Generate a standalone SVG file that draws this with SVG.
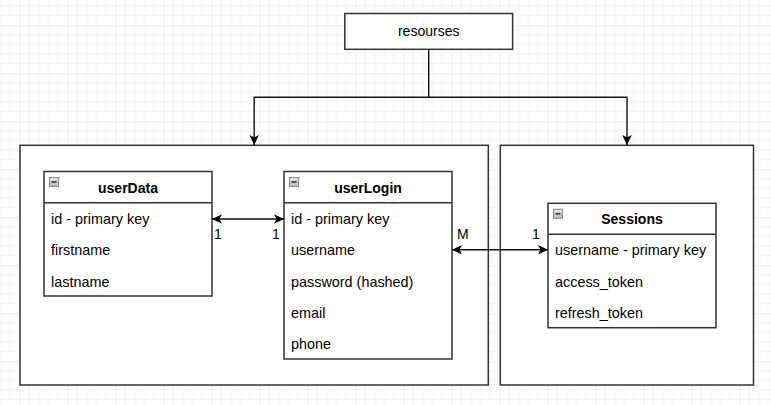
<svg xmlns="http://www.w3.org/2000/svg" width="771" height="405" viewBox="0 0 771 405">
  <defs>
    <pattern id="gridMajor" patternUnits="userSpaceOnUse" x="19.5" y="25.3" width="48" height="48">
      <path d="M9.6,0V48M19.2,0V48M28.8,0V48M38.4,0V48M0,9.6H48M0,19.2H48M0,28.8H48M0,38.4H48" stroke="#f3f3f3" stroke-width="1" fill="none"/>
      <path d="M0,0V48M0,0H48" stroke="#e2e2e2" stroke-width="1.2" fill="none"/>
    </pattern>
    <marker id="arrow" markerUnits="userSpaceOnUse" viewBox="-11 -6 12 12" markerWidth="12" markerHeight="12" refX="0" refY="0" orient="auto-start-reverse">
      <path d="M0,0 L-10,-4.8 L-7.5,0 L-10,4.8 Z" fill="#000"/>
    </marker>
    <linearGradient id="iconFill" x1="0" y1="0" x2="0" y2="1">
      <stop offset="0" stop-color="#e8e8e8"/>
      <stop offset="1" stop-color="#b8b8b8"/>
    </linearGradient>
  </defs>
  <style>
    .box { fill: #ffffff; stroke: #333333; stroke-width: 1.5; }
    .sep { stroke: #333333; stroke-width: 1.5; fill: none; }
    .title { font-family: "Liberation Sans", Arial, sans-serif; font-size: 14px; font-weight: bold; fill: #000; text-anchor: middle; }
    .field { font-family: "Liberation Sans", Arial, sans-serif; font-size: 14.4px; fill: #000; }
    .label { font-family: "Liberation Sans", Arial, sans-serif; font-size: 14px; fill: #000; }
    .center { text-anchor: middle; }
    .edge { stroke: #111111; stroke-width: 1.4; fill: none; }
    .icon { fill: url(#iconFill); stroke: #888888; stroke-width: 1; }
    .iconbar { stroke: #333333; stroke-width: 1.6; }
  </style>

  <rect x="0" y="0" width="771" height="405" fill="#ffffff"/>
  <rect x="0" y="0" width="771" height="405" fill="url(#gridMajor)"/>

  <g id="container-left">
    <rect class="box" x="20" y="145.3" width="468.3" height="239.7"/>
  </g>
  <g id="container-right">
    <rect class="box" x="500.3" y="145.3" width="253.2" height="239.7"/>
  </g>

  <g id="resourses">
    <rect class="box" x="344.8" y="13.5" width="167.8" height="35.8"/>
    <text class="label center" x="428.7" y="36">resourses</text>
  </g>

  <g id="userData">
    <rect class="box" x="44" y="171.5" width="168" height="124.5"/>
    <line class="sep" x1="44" y1="202.7" x2="212" y2="202.7"/>
    <rect class="icon" x="49.5" y="177.5" width="9" height="9"/>
    <line class="iconbar" x1="51.5" y1="182" x2="56.5" y2="182"/>
    <text class="title" x="128" y="193">userData</text>
    <text class="field" x="51" y="224">id - primary key</text>
    <text class="field" x="51" y="255.3">firstname</text>
    <text class="field" x="51" y="287">lastname</text>
  </g>

  <g id="userLogin">
    <rect class="box" x="284" y="171.5" width="168" height="187.5"/>
    <line class="sep" x1="284" y1="202.7" x2="452" y2="202.7"/>
    <rect class="icon" x="289.5" y="177.5" width="9" height="9"/>
    <line class="iconbar" x1="291.5" y1="182" x2="296.5" y2="182"/>
    <text class="title" x="368" y="193">userLogin</text>
    <text class="field" x="291" y="224">id - primary key</text>
    <text class="field" x="291" y="255.3">username</text>
    <text class="field" x="291" y="287">password (hashed)</text>
    <text class="field" x="291" y="318.3">email</text>
    <text class="field" x="291" y="349.3">phone</text>
  </g>

  <g id="Sessions">
    <rect class="box" x="548" y="203.3" width="168" height="124.4"/>
    <line class="sep" x1="548" y1="234.3" x2="716" y2="234.3"/>
    <rect class="icon" x="553.5" y="209.3" width="9" height="9"/>
    <line class="iconbar" x1="555.5" y1="213.8" x2="560.5" y2="213.8"/>
    <text class="title" x="632" y="224.3">Sessions</text>
    <text class="field" x="555" y="255.3">username - primary key</text>
    <text class="field" x="555" y="287">access_token</text>
    <text class="field" x="555" y="318.3">refresh_token</text>
  </g>

  <g id="connectors">
    <path class="edge" d="M428.7,49.3 V97.3 H254.2 V145" marker-end="url(#arrow)"/>
    <path class="edge" d="M428.7,97.3 H627 V145" marker-end="url(#arrow)"/>
    <path class="edge" d="M212,219 H284" marker-start="url(#arrow)" marker-end="url(#arrow)"/>
    <path class="edge" d="M452,249.7 H548" marker-start="url(#arrow)" marker-end="url(#arrow)"/>
    <text class="label" x="214" y="239">1</text>
    <text class="label" x="272" y="239">1</text>
    <text class="label" x="457" y="239">M</text>
    <text class="label" x="532" y="239">1</text>
  </g>
</svg>
